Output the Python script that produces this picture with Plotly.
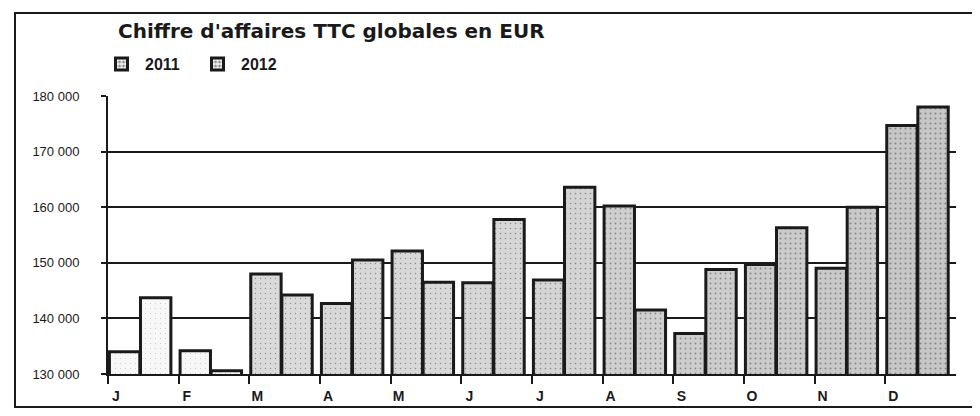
import plotly.graph_objects as go

months = ["J", "F", "M", "A", "M", "J", "J", "A", "S", "O", "N", "D"]
ca_2011 = [134000, 134200, 148000, 142700, 152100, 146400, 146900, 160200, 137300, 149700, 149000, 174700]
ca_2012 = [143700, 130600, 144200, 150500, 146500, 157800, 163600, 141500, 148800, 156300, 160000, 178000]
y_ticks = [130000, 140000, 150000, 160000, 170000, 180000]
y_tick_labels = ["130 000", "140 000", "150 000", "160 000", "170 000", "180 000"]
title_text = "Chiffre d'affaires TTC globales en EUR"

# page has the browser's default 8px body margin: the figure is sized to fit
OFF = 8
W, H = 980 - OFF, 416 - OFF
ML, MR, MT, MB = 100, 24, 88, 42

# grey tone of the scanned bars (light for Jan/Feb, darker towards year end)
bar_colors = ["#f7f7f7", "#f7f7f7", "#dadada", "#d8d8d8", "#d8d8d8", "#d6d6d6",
              "#d4d4d4", "#cfcfcf", "#cdcdcd", "#cbcbcb", "#c9c9c9", "#c7c7c7"]
dot_solidity = [0.02, 0.02, 0.06, 0.07, 0.07, 0.08, 0.09, 0.1, 0.1, 0.12, 0.12, 0.13]

idx = list(range(len(months)))


def px_x(p):
    """screen pixel -> paper x"""
    return (p - OFF - ML) / (W - ML - MR)


def px_y(p):
    """screen pixel -> paper y"""
    return 1 - (p - OFF - MT) / (H - MT - MB)


fig = go.Figure()
for name, vals, off in [("2011", ca_2011, 0.02), ("2012", ca_2012, 0.46)]:
    fig.add_trace(go.Bar(
        name=name, x=idx, y=vals, width=0.43, offset=off,
        marker=dict(
            color=bar_colors,
            line=dict(color="#1a1a1a", width=3),
            pattern=dict(shape=".", fgcolor="#333333", size=5,
                         solidity=dot_solidity, fillmode="overlay"),
        ),
        hovertemplate="%{y}<extra>" + name + "</extra>",
    ))

fig.update_layout(
    width=W, height=H,
    margin=dict(l=ML, r=MR, t=MT, b=MB),
    paper_bgcolor="white", plot_bgcolor="white",
    barmode="overlay",
    showlegend=True,
    legend=dict(
        orientation="h", x=px_x(98), y=px_y(47), xanchor="left", yanchor="top",
        font=dict(family="Liberation Sans, Arial, sans-serif", size=16, color="#1a1a1a", weight="bold"),
        itemwidth=37, entrywidth=44, entrywidthmode="pixels",
        bgcolor="rgba(0,0,0,0)",
    ),
    font=dict(family="Liberation Sans, Arial, sans-serif", color="#1a1a1a"),
    xaxis=dict(
        range=[0, 12], tickvals=idx, ticktext=months,
        showgrid=False, zeroline=False,
        showline=True, linecolor="#1a1a1a", linewidth=2,
        ticks="outside", ticklen=8, tickwidth=2, tickcolor="#1a1a1a",
        ticklabelshift=8, ticklabelstandoff=0,
        tickfont=dict(family="Liberation Sans, Arial, sans-serif", size=14, color="#1a1a1a", weight="bold"),
        fixedrange=True,
    ),
    yaxis=dict(
        range=[130000, 180000], tickvals=y_ticks, ticktext=y_tick_labels,
        showgrid=True, gridcolor="#1a1a1a", gridwidth=2,
        zeroline=False,
        showline=True, linecolor="#1a1a1a", linewidth=2,
        ticks="outside", ticklen=5, tickwidth=2, tickcolor="#1a1a1a",
        ticklabelstandoff=19,
        tickfont=dict(family="Liberation Sans, Arial, sans-serif", size=13, color="#1a1a1a"),
        fixedrange=True,
    ),
    annotations=[dict(
        text="<b>" + title_text + "</b>", xref="paper", yref="paper",
        x=px_x(116), y=px_y(31), xanchor="left", yanchor="middle",
        showarrow=False, font=dict(family="DejaVu Sans, Verdana, sans-serif", size=20, color="#1a1a1a"),
    )],
    shapes=[dict(
        type="rect", xref="paper", yref="paper",
        x0=px_x(15), x1=px_x(974), y0=px_y(407), y1=px_y(13),
        line=dict(color="#1a1a1a", width=2), fillcolor="rgba(0,0,0,0)", layer="below",
    )],
)

fig.write_html("out.html")
